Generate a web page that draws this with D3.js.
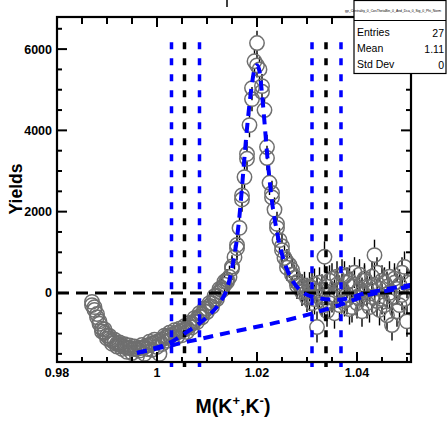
<!DOCTYPE html>
<html><head><meta charset="utf-8">
<script src="https://cdn.jsdelivr.net/npm/d3@7"></script>
<style>
html,body{margin:0;padding:0;background:#fff;}
svg{display:block;font-family:"Liberation Sans",Arial,Helvetica,sans-serif;}
</style></head>
<body><svg id="c" width="447" height="421"></svg>
<script>
// ---- data ----
const mass = [
0.9870,0.9875,0.9880,0.9885,0.9890,0.9895,0.9900,0.9905,0.9910,0.9915,
0.9920,0.9925,0.9930,0.9935,0.9940,0.9945,0.9950,0.9955,0.9960,0.9965,
0.9970,0.9975,0.9980,0.9985,0.9990,0.9995,1.0000,1.0005,1.0010,1.0015,
1.0020,1.0025,1.0030,1.0035,1.0040,1.0045,1.0050,1.0055,1.0060,1.0065,
1.0070,1.0075,1.0080,1.0085,1.0090,1.0095,1.0100,1.0105,1.0110,1.0115,
1.0120,1.0125,1.0130,1.0135,1.0140,1.0145,1.0150,1.0155,1.0160,1.0165,
1.0170,1.0175,1.0180,1.0185,1.0190,1.0195,1.0200,1.0205,1.0210,1.0215,
1.0220,1.0225,1.0230,1.0235,1.0240,1.0245,1.0250,1.0255,1.0260,1.0265,
1.0270,1.0275,1.0280,1.0285,1.0290,1.0295,1.0300,1.0305,1.0310,1.0315,
1.0320,1.0325,1.0330,1.0335,1.0340,1.0345,1.0350,1.0355,1.0360,1.0365,
1.0370,1.0375,1.0380,1.0385,1.0390,1.0395,1.0400,1.0405,1.0410,1.0415,
1.0420,1.0425,1.0430,1.0435,1.0440,1.0445,1.0450,1.0455,1.0460,1.0465,
1.0470,1.0475,1.0480,1.0485,1.0490,1.0495,1.0500];
const yieldsA = [
-220,-420,-600,-760,-880,-980,-1050,-1120,-1180,-1220,
-1250,-1280,-1300,-1330,-1350,-1350,-1380,-1380,-1380,-1350,
-1350,-1330,-1300,-1280,-1250,-1230,-1200,-1180,-1150,-1110,
-1080,-1050,-1030,-1000,-980,-950,-930,-900,-860,-810,
-760,-700,-640,-580,-520,-450,-390,-320,-250,-160,
-70,30,120,200,270,390,600,880,1100,1600,
2300,2850,3300,4130,4770,5700,6150,5500,5090,4500,
3590,2710,2460,2050,1600,1300,1050,860,760,690,
570,370,270,200,120,70,25,-80,120,-150,
50,250,-200,890,150,-250,350,-50,200,-300,
100,400,-150,300,-350,200,-100,450,0,300,
-250,150,400,930,-200,100,300,-300,150,400,
-100,250,-450,200,500,-150,250];
const yieldsB = [
-300,-350,-520,-700,-950,-900,-1120,-1060,-1250,-1150,
-1320,-1220,-1380,-1260,-1450,-1290,-1480,-1320,-1560,-1420,
-1280,-1500,-1380,-1200,-1400,-1150,-1330,-1500,-1260,-1050,
-1180,-980,-1140,-920,-1080,-880,-1040,-820,-960,-740,
-850,-620,-720,-500,-600,-380,-470,-250,-340,-80,
-150,100,60,280,330,null,650,null,1180,null,
2400,null,3420,null,5040,null,5600,null,4950,null,
3320,null,2350,null,1700,null,1150,null,620,null,
450,null,180,null,20,180,-120,150,-250,220,
-840,-100,80,-300,-450,300,-100,-500,400,50,
450,-200,250,-400,150,500,-250,100,-450,350,
50,-350,-100,200,500,-420,-150,250,-550,0,
-790,350,100,-300,-50,640,-700];
const yieldErr = [
150,150,150,150,150,150,150,150,150,150,
150,150,150,150,150,150,150,150,150,150,
150,150,150,150,150,150,150,150,150,150,
150,150,150,150,150,150,150,150,150,150,
150,150,150,150,150,150,150,150,150,150,
180,200,220,240,260,280,280,300,300,300,
300,300,300,300,300,300,300,300,300,300,
300,300,300,300,300,300,300,300,320,320,
320,320,330,330,340,340,350,360,370,380,
380,380,380,380,380,380,380,380,380,380,
380,380,380,380,380,380,380,380,380,380,
380,380,380,380,380,380,380,380,380,380,
380,380,380,380,380,380,380];

const fitMass   = [0.9960,0.9990,1.0025,1.0050,1.0080,1.0105,1.0125,1.0140,1.0150,1.0160,1.0165,1.0170,1.0175,1.0180,1.0185,1.0190,1.0195,1.0200,1.0205,1.0210,1.0215,1.0220,1.0225,1.0230,1.0240,1.0250,1.0260,1.0270,1.0290,1.0320,1.0360,1.0420,1.0490,1.0508];
const fitYields = [-1476,-1380,-1230,-1040,-790,-540,-250,100,600,1350,1900,2600,3350,4050,4650,5150,5500,5600,5450,4900,4200,3450,2800,2250,1500,950,580,320,30,-120,-170,0,160,200];
const bkgMass   = [0.9960,1.0050,1.0150,1.0245,1.0300,1.0365,1.0420,1.0490,1.0508];
const bkgYields = [-1476,-1230,-960,-713,-540,-300,-60,123,170];

const sideBlue  = [1.0029,1.0085,1.0310,1.0368];
const sideBlack = [1.0055,1.0338];
const sideRange = [-1820,6170];

const xMajorTicks = [0.98,1.00,1.02,1.04];
const xTickLabels = ["0.98","1","1.02","1.04"];
const yMajorTicks = [0,2000,4000,6000];
const yTickLabels = ["0","2000","4000","6000"];

const statTitle = "gp_Centrality_0_CosThetaBin_0_And_Dca_0_Sig_0_Phi_Norm";
const statNames = ["Entries","Mean","Std Dev"];
const statValues = ["27","1.11","0"];

// ---- drawing ----
const svg = d3.select("#c");
const L=57, R=411, T=17, B=362;
const x = d3.scaleLinear().domain([0.98,1.0508]).range([L,R]);
const y = d3.scaleLinear().domain([-1700,6790]).range([B,T]);

svg.append("rect").attr("width",447).attr("height",421).attr("fill","#fff");

svg.append("clipPath").attr("id","pc").append("rect")
  .attr("x",L).attr("y",T).attr("width",R-L).attr("height",B-T);

// data points
const pts = [];
mass.forEach((m,i)=>{
  pts.push({m, v:yieldsA[i], e:yieldErr[i]});
  if (yieldsB[i] !== null) pts.push({m, v:yieldsB[i], e:yieldErr[i]});
});
const r = 7.2;
const gd = svg.append("g").attr("clip-path","url(#pc)");
pts.forEach(p=>{
  const cx=x(p.m), cy=y(p.v), ePx = y(0)-y(p.e);
  if (ePx > r) {
    gd.append("line").attr("x1",cx).attr("x2",cx).attr("y1",cy-ePx).attr("y2",cy-r)
      .attr("stroke","#000").attr("stroke-width",1.4);
    gd.append("line").attr("x1",cx).attr("x2",cx).attr("y1",cy+r).attr("y2",cy+ePx)
      .attr("stroke","#000").attr("stroke-width",1.4);
  }
});
gd.selectAll("circle.pt").data(pts).join("circle").attr("class","pt")
  .attr("cx",d=>x(d.m)).attr("cy",d=>y(d.v)).attr("r",r)
  .attr("fill","none").attr("stroke","#6f6f6f").attr("stroke-width",1.5);

// zero line
svg.append("line").attr("x1",L).attr("x2",R).attr("y1",y(0)).attr("y2",y(0))
  .attr("stroke","#000").attr("stroke-width",3).attr("stroke-dasharray","12,7");

// sideband lines
sideBlue.forEach(m=>{
  svg.append("line").attr("x1",x(m)).attr("x2",x(m)).attr("y1",y(sideRange[1])).attr("y2",y(sideRange[0]))
    .attr("stroke","#0000ff").attr("stroke-width",3.5).attr("stroke-dasharray","7,9");
});
sideBlack.forEach(m=>{
  svg.append("line").attr("x1",x(m)).attr("x2",x(m)).attr("y1",y(sideRange[1])).attr("y2",y(sideRange[0]))
    .attr("stroke","#000").attr("stroke-width",3.5).attr("stroke-dasharray","7,9");
});

// fits
const lineGen = d3.line().x(d=>x(d[0])).y(d=>y(d[1])).curve(d3.curveMonotoneX);
svg.append("path").attr("d",lineGen(bkgMass.map((m,i)=>[m,bkgYields[i]])))
  .attr("fill","none").attr("stroke","#0000ff").attr("stroke-width",4).attr("stroke-dasharray","10,7");
svg.append("path").attr("d",lineGen(fitMass.map((m,i)=>[m,fitYields[i]])))
  .attr("fill","none").attr("stroke","#0000ff").attr("stroke-width",4).attr("stroke-dasharray","10,7");

// frame & ticks
const ax = svg.append("g").attr("stroke","#000");
ax.append("rect").attr("x",L).attr("y",T).attr("width",R-L).attr("height",B-T)
  .attr("fill","none").attr("stroke-width",2.2);
const xMinor = x.ticks(14), yMinor = y.ticks(17);
xMinor.forEach(t=>{
  const major = xMajorTicks.some(v=>Math.abs(v-t)<1e-9);
  const len = major?10:5;
  ax.append("line").attr("x1",x(t)).attr("x2",x(t)).attr("y1",B).attr("y2",B-len).attr("stroke-width",2);
  ax.append("line").attr("x1",x(t)).attr("x2",x(t)).attr("y1",T).attr("y2",T+(major?10:7)).attr("stroke-width",2);
});
yMinor.forEach(t=>{
  const major = yMajorTicks.includes(t);
  const len = major?10:5;
  ax.append("line").attr("x1",L).attr("x2",L+len).attr("y1",y(t)).attr("y2",y(t)).attr("stroke-width",2);
  ax.append("line").attr("x1",R).attr("x2",R-len).attr("y1",y(t)).attr("y2",y(t)).attr("stroke-width",2);
});
// stray tick above frame
ax.append("line").attr("x1",227).attr("x2",227).attr("y1",0).attr("y2",7).attr("stroke-width",1.5);

// tick labels
const tl = svg.append("g").attr("font-weight","bold").attr("font-size","12.5px").attr("fill","#000");
xMajorTicks.forEach((t,i)=>{
  tl.append("text").attr("x",x(t)).attr("y",B+15).attr("text-anchor","middle").text(xTickLabels[i]);
});
yMajorTicks.forEach((t,i)=>{
  tl.append("text").attr("x",L-5).attr("y",y(t)+4.5).attr("text-anchor","end").text(yTickLabels[i]);
});

// axis titles
svg.append("text").attr("transform","translate(22,189) rotate(-90)").attr("text-anchor","middle")
  .attr("font-weight","bold").attr("font-size","17.5px").text("Yields");
const xt = svg.append("text").attr("x",233).attr("y",413).attr("text-anchor","middle")
  .attr("font-weight","bold").attr("font-size","19.5px");
xt.append("tspan").text("M(K");
xt.append("tspan").attr("dy",-8).attr("font-size","13px").text("+");
xt.append("tspan").attr("dy",8).text(",K");
xt.append("tspan").attr("dy",-8).attr("font-size","13px").text("-");
xt.append("tspan").attr("dy",8).text(")");

// stats box
const sb = svg.append("g");
sb.append("rect").attr("x",354).attr("y",0.5).attr("width",92).attr("height",73).attr("fill","#fff")
  .attr("stroke","#000").attr("stroke-width",1.2);
sb.append("line").attr("x1",354).attr("x2",446).attr("y1",20.5).attr("y2",20.5).attr("stroke","#000").attr("stroke-width",1);
sb.append("text").attr("x",345).attr("y",12).attr("font-size","3.4px").text(statTitle);
statNames.forEach((n,i)=>{
  sb.append("text").attr("x",357).attr("y",36+i*16).attr("font-size","10.5px").text(n);
  sb.append("text").attr("x",444).attr("y",37+i*16).attr("font-size","10.5px").attr("text-anchor","end").text(statValues[i]);
});
</script></body></html>
